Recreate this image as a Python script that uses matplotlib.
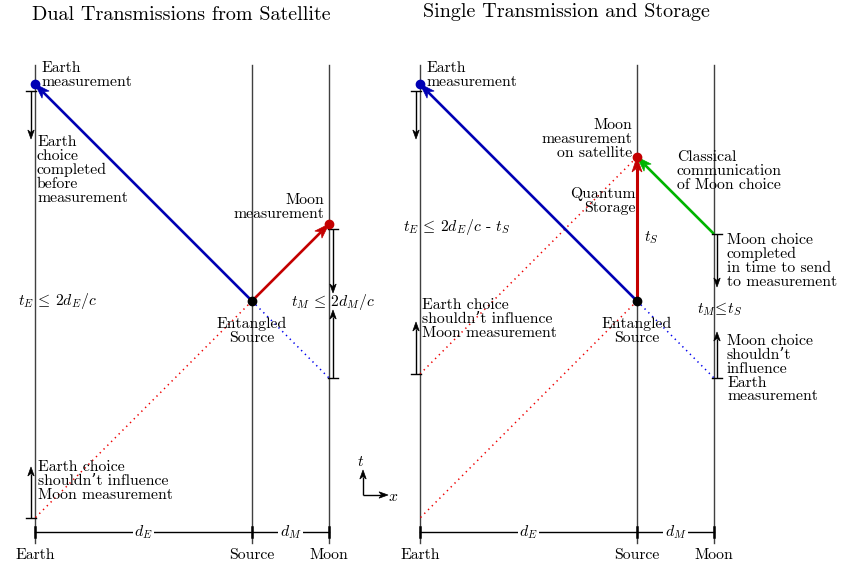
import numpy as np
import matplotlib.pyplot as plt
from matplotlib.patches import Polygon

plt.rcParams['font.family'] = ['cmr10', 'DejaVu Serif']
plt.rcParams['mathtext.fontset'] = 'cm'
plt.rcParams['axes.unicode_minus'] = False

# --- chart values (light travels at 45 degrees: c = 1 in these units) ---
titles = ["Dual Transmissions from Satellite", "Single Transmission and Storage"]
site_names = ["Earth", "Source", "Moon"]
d_E = 217          # Earth - Source distance
d_M = 77           # Source - Moon distance
t_S = 144          # storage time on satellite (right panel)
t_top = 236        # top of world lines
t_bottom = -242    # bottom of world lines
t_bar = -231       # level of the distance bar
t_names = -254     # level of the site names

# layout: x of the Earth world line in each panel
earth_x = [35, 420]

BLUE = '#0000b4'
RED = '#c40000'
GREEN = '#00b400'
GRAY = '#404040'

fig = plt.figure(figsize=(8.41, 5.66), dpi=100)
ax = fig.add_axes([0, 0, 1, 1])
ax.set_xlim(0, 841)
ax.set_ylim(301 - 566, 301)
ax.axis('off')

FS = 11.3
LS = 1.0


def arrow(p0, p1, color, lw, L=15, w=5.0, notch=4.0, z=3):
    # line with a stealth-like head (data units are pixels)
    p0, p1 = np.array(p0, float), np.array(p1, float)
    u = (p1 - p0) / np.hypot(*(p1 - p0))
    n = np.array([-u[1], u[0]])
    back = p1 - u * L
    inner = p1 - u * (L - notch)
    ax.plot([p0[0], inner[0]], [p0[1], inner[1]], color=color, lw=lw, zorder=z,
            solid_capstyle='butt')
    ax.add_patch(Polygon([p1, back + n * w, inner, back - n * w], closed=True,
                         fc=color, ec=color, lw=0.5, zorder=z))


def small_arrow(p0, p1, z=4):
    arrow(p0, p1, 'black', 1.0, L=9, w=3.2, notch=2.5, z=z)


def bracket(x, t0, t1):
    # tick at t0, arrow from t0 towards t1
    ax.plot([x - 5, x + 5], [t0, t0], color='black', lw=1.0, zorder=4)
    small_arrow((x, t0), (x, t1))


def dotted(p0, p1, color):
    ax.plot([p0[0], p1[0]], [p0[1], p1[1]], color=color, lw=1.1, ls=(0, (0.9, 2.6)), zorder=2)


def label(x, t, s, ha='left', **kw):
    ax.text(x, t, s, ha=ha, va='center', fontsize=FS, linespacing=LS, multialignment=ha, **kw)


for p in range(2):
    xe = earth_x[p]
    xs = xe + d_E
    xm = xs + d_M
    # world lines
    for x in (xe, xs, xm):
        ax.plot([x, x], [t_bottom, t_top], color=GRAY, lw=1.0, zorder=1)
    # distance bar
    ax.plot([xe, xm], [t_bar, t_bar], color='black', lw=1.0, zorder=2)
    for x in (xe, xs, xm):
        ax.plot([x, x], [t_bar - 5, t_bar + 5], color='black', lw=1.8, zorder=2)
    ax.text((xe + xs) / 2, t_bar, r'$d_E$', ha='center', va='center', fontsize=FS,
            bbox=dict(fc='white', ec='none', pad=1), zorder=3)
    ax.text((xs + xm) / 2, t_bar, r'$d_M$', ha='center', va='center', fontsize=FS,
            bbox=dict(fc='white', ec='none', pad=1), zorder=3)
    for x, name in zip((xe, xs, xm), site_names):
        ax.text(x, t_names, name, ha='center', va='center', fontsize=FS)
    ax.text(xe - 3 if p == 0 else xe + 3, 286 if p == 0 else 289, titles[p], ha='left',
            va='center', fontsize=14.5)

    # backward light cone (dotted)
    dotted((xs, 0), (xe, -d_E), '#ee0000')
    dotted((xs, 0), (xm, -d_M), '#0000ee')

    # photon to Earth
    arrow((xs, 0), (xe, d_E), BLUE, 1.9)
    ax.plot([xe], [d_E], 'o', color=BLUE, ms=6, zorder=5)
    label(xe + 6, d_E + 9, 'Earth\nmeasurement')
    bracket(xe - 4, d_E - 7, d_E - 55)

    # source
    ax.plot([xs], [0], 'o', color='black', ms=6, zorder=6)
    label(xs, -30, 'Entangled\nSource', ha='center')

    if p == 0:
        arrow((xs, 0), (xm, d_M), RED, 1.9)
        ax.plot([xm], [d_M], 'o', color=RED, ms=6, zorder=5)
        label(xm - 5, 94, 'Moon\nmeasurement', ha='right')
        label(xe + 2, 131, 'Earth\nchoice\ncompleted\nbefore\nmeasurement')
        label(xe - 17, 0, r'$t_E\,\leq\,2d_E/c$')
        bracket(xe - 4, -d_E, -d_E + 51)
        label(xe + 3, -180, "Earth choice\nshouldn’t influence\nMoon measurement")
        bracket(xm + 4, d_M - 5, 8)
        bracket(xm + 4, -d_M, -9)
        label(xm - 38, -1, r'$t_M\,\leq\,2d_M/c$')
        # axis indicator
        ox, ot = 363, -194
        small_arrow((ox, ot), (ox, ot + 25))
        small_arrow((ox, ot), (ox + 25, ot))
        ax.text(ox - 2, ot + 33, r'$t$', ha='center', va='center', fontsize=FS)
        ax.text(ox + 30, ot - 2, r'$x$', ha='center', va='center', fontsize=FS)
    else:
        # storage on satellite, then measurement
        arrow((xs, 0), (xs, t_S), RED, 2.2)
        ax.plot([xs], [t_S], 'o', color=RED, ms=6, zorder=5)
        dotted((xe, t_S - d_E), (xs, t_S), '#ee0000')
        arrow((xm, t_S - d_M), (xs, t_S), GREEN, 1.9)
        label(xs - 5, 162, 'Moon\nmeasurement\non satellite', ha='right')
        label(xs - 1, 100, 'Quantum\nStorage', ha='right')
        label(xs + 7, 63, r'$t_S$')
        label(xs + 40, 130, 'Classical\ncommunication\nof Moon choice')
        label(xe - 17, 74, r'$t_E\,\leq\,2d_E/c$ - $t_S$')
        bracket(xe - 4, t_S - d_E, t_S - d_E + 52)
        label(xe + 2, -18, "Earth choice\nshouldn’t influence\nMoon measurement")
        bracket(xm + 3, t_S - d_M, 14)
        bracket(xm + 3, -d_M, -31)
        label(xm + 13, 40, 'Moon choice\ncompleted\nin time to send\nto measurement')
        label(xm - 17, -8, r'$t_M\!\leq\! t_S$')
        label(xm + 13, -68, "Moon choice\nshouldn’t\ninfluence\nEarth\nmeasurement")

fig.savefig('out.png', dpi=100)
